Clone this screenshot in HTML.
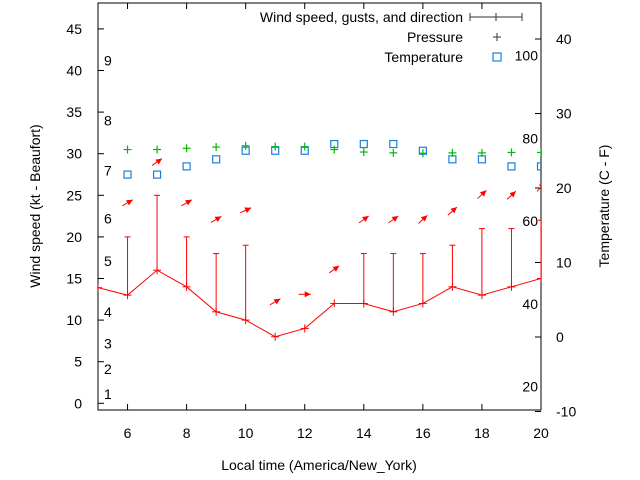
<!DOCTYPE html>
<html><head><meta charset="utf-8"><style>
body{margin:0;background:#fff}
svg{display:block;font-family:"Liberation Sans",sans-serif;font-size:14px}
</style></head><body>
<svg id="chart" width="640" height="480" xmlns="http://www.w3.org/2000/svg">
<defs><clipPath id="plotclip"><rect x="98" y="3" width="443" height="407"/></clipPath></defs>
<g id="axes"></g>
<g id="marks" clip-path="url(#plotclip)"></g>
<text x="319" y="470" text-anchor="middle">Local time (America/New_York)</text>
<text transform="translate(40,206) rotate(-90)" text-anchor="middle">Wind speed (kt - Beaufort)</text>
<text transform="translate(609,206) rotate(-90)" text-anchor="middle">Temperature (C - F)</text>
<g>
<text x="463" y="22" text-anchor="end">Wind speed, gusts, and direction</text>
<g stroke="#333" stroke-width="1"><line x1="470" y1="17" x2="522" y2="17"/><line x1="470" y1="13" x2="470" y2="21"/><line x1="522" y1="13" x2="522" y2="21"/><line x1="496" y1="13" x2="496" y2="21"/></g>
<text x="463" y="42" text-anchor="end">Pressure</text>
<g stroke="#333"><line x1="493" y1="37" x2="501" y2="37"/><line x1="497" y1="33" x2="497" y2="41"/></g>
<text x="463" y="62" text-anchor="end">Temperature</text>
<rect x="493" y="53" width="8" height="8" fill="none" stroke="#1a7fe0" stroke-width="1.2"/>
</g>
</svg>
<script>
const hours=[5,6,7,8,9,10,11,12,13,14,15,16,17,18,19,20];
const windSpeed=[13.9,13,16,14,11,10,8,9,12,12,11,12,14,13,14,15];
const gusts=[null,20,25,20,18,19,null,null,null,18,18,18,19,21,21,22];
const pressure=[null,30.5,30.5,30.65,30.8,30.95,30.85,30.85,30.5,30.2,30.1,30.05,30.1,30.1,30.15,30.15];
const tempC=[null,21.8,21.8,22.9,23.85,25,25,25,25.9,25.9,25.9,25,23.85,23.85,22.9,22.9];
const arrowVal=[null,24.1,29,24.1,22.1,23.2,12.2,13.1,16.1,22.1,22.1,22.1,23.1,25.1,25,26];
const arrowAngle=[null,30,35,30,30,25,30,0,35,35,35,42,42,43,43,48];
const xTicks=[6,8,10,12,14,16,18,20];
const yTicks=[0,5,10,15,20,25,30,35,40,45];
const y2Ticks=[-10,0,10,20,30,40];
const beaufortLabels=["1","2","3","4","5","6","7","8","9"];
const beaufortVals=[1.1,4.1,7.2,11.0,17.1,22.2,28.0,34.0,41.2];
const fahrenheitLabels=["20","40","60","80","100"];

const L=98,R=541,T=3,B=410;
const X=v=>L+(v-5)*(R-L)/15;
const Y=v=>403.3-8.32*v;
const Y2=v=>337-7.45*v;
const NS="http://www.w3.org/2000/svg";
function mk(tag,parent,attrs){const e=document.createElementNS(NS,tag);for(const k in attrs)e.setAttribute(k,attrs[k]);parent.appendChild(e);return e;}
const axes=document.getElementById('axes'),marks=document.getElementById('marks');
const frame=mk('rect',axes,{x:L,y:T,width:R-L,height:B-T,fill:'none',stroke:'#000','stroke-width':1});


xTicks.forEach(t=>{
  const g=mk('g',axes,{stroke:'#000'});
  
  
  mk('line',g,{x1:X(t),y1:B,x2:X(t),y2:B-6});
  mk('line',g,{x1:X(t),y1:T,x2:X(t),y2:T+6});
  const tx=mk('text',axes,{x:X(t),y:438,'text-anchor':'middle'});tx.textContent=t;
  
  
});
yTicks.forEach(t=>{
  const l=mk('line',axes,{x1:L,y1:Y(t),x2:L+6,y2:Y(t),stroke:'#000'});
  
  
  const tx=mk('text',axes,{x:82,y:Y(t)+5,'text-anchor':'end'});tx.textContent=t;
  
  
});
y2Ticks.forEach(t=>{
  const l=mk('line',axes,{x1:R,y1:Y2(t),x2:R-6,y2:Y2(t),stroke:'#000'});
  
  
  const tx=mk('text',axes,{x:556,y:Y2(t)+5,'text-anchor':'start'});tx.textContent=t;
  
  
});
beaufortLabels.forEach((s,i)=>{
  const tx=mk('text',axes,{x:104,y:Y(beaufortVals[i])+5});tx.textContent=s;
  
  
});
fahrenheitLabels.forEach(s=>{
  const c=(parseFloat(s)-32)*5/9;
  const tx=mk('text',axes,{x:538,y:Y2(c)+5,'text-anchor':'end'});tx.textContent=s;
  
  
});
const pts=hours.map((h,i)=>X(h)+','+Y(windSpeed[i])).join(' ');
const pl=mk('polyline',marks,{points:pts,fill:'none',stroke:'#f00','stroke-width':1});


hours.forEach((h,i)=>{
  const x=X(h),y=Y(windSpeed[i]);
  const g=mk('g',marks,{stroke:'#f00','stroke-width':1});
  
  
  mk('line',g,{x1:x-4,y1:y,x2:x+4,y2:y});mk('line',g,{x1:x,y1:y-4,x2:x,y2:y+4});
  if(gusts[i]!=null){
    const gy=Y(gusts[i]);
    mk('line',g,{x1:x,y1:y,x2:x,y2:gy});mk('line',g,{x1:x-3,y1:gy,x2:x+3,y2:gy});
  }
  if(arrowVal[i]!=null){
    const a=arrowAngle[i]*Math.PI/180,cx=x,cy=Y(arrowVal[i]),len=12;
    const dx=Math.cos(a)*len/2,dy=-Math.sin(a)*len/2;
    const ax=mk('g',marks,{});
    
    
    mk('line',ax,{x1:cx-dx,y1:cy-dy,x2:cx+dx,y2:cy+dy,stroke:'#f00','stroke-width':1});
    const tx=cx+dx,ty=cy+dy,ux=Math.cos(a),uy=-Math.sin(a);
    const bx=tx-ux*6,by=ty-uy*6,px=-uy*3,py=ux*3;
    mk('polygon',ax,{points:`${tx},${ty} ${bx+px},${by+py} ${bx-px},${by-py}`,fill:'#f00'});
  }
  if(pressure[i]!=null){
    const py=Y(pressure[i]);
    const pg=mk('g',marks,{stroke:'#0b0','stroke-width':1.2});
    
    
    mk('line',pg,{x1:x-4,y1:py,x2:x+4,y2:py});mk('line',pg,{x1:x,y1:py-4,x2:x,y2:py+4});
  }
  if(tempC[i]!=null){
    const ty2=Y2(tempC[i]);
    const r=mk('rect',marks,{x:x-3.5,y:ty2-3.5,width:7,height:7,fill:'none',stroke:'#1a7fe0','stroke-width':1.2});
    
    
  }
});
</script>
</body></html>
